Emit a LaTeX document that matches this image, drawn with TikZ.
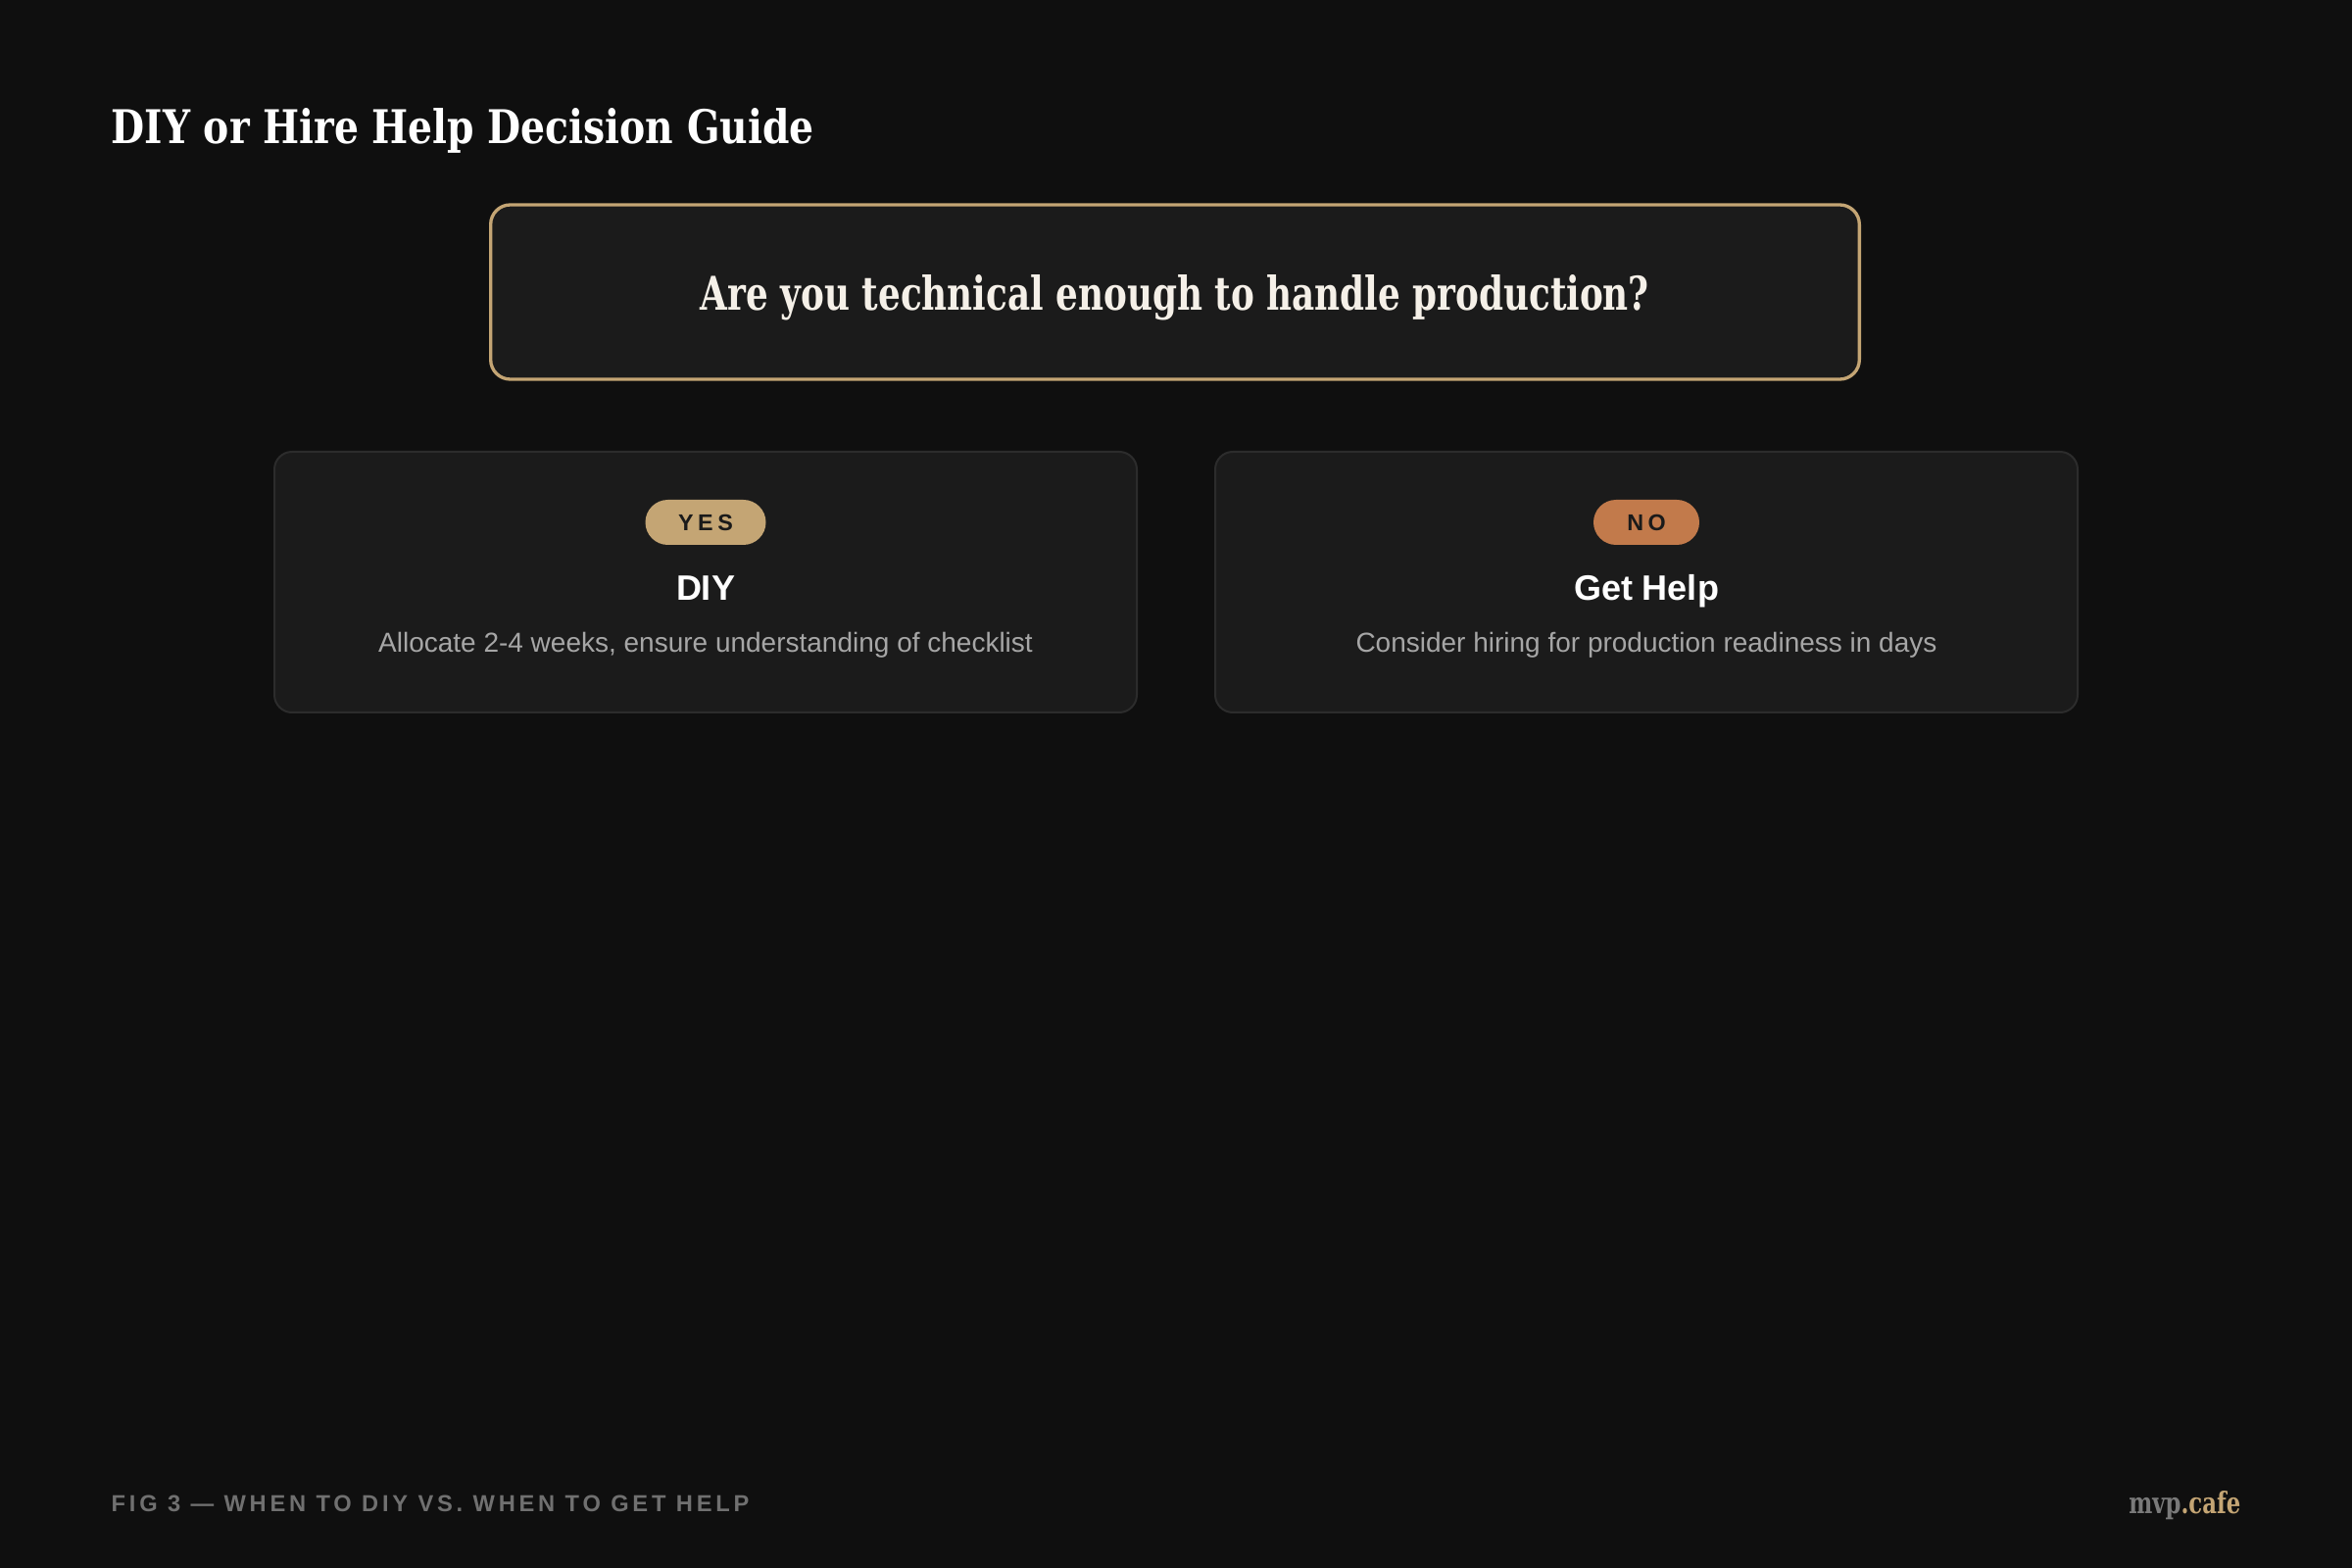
\documentclass[tikz,border=0pt]{standalone}
\usepackage{fontspec}
\usepackage{graphicx}
\setsansfont{Liberation Sans}
\newfontfamily\dispfont{DejaVu Serif}
\definecolor{bg}{HTML}{0F0F0F}
\definecolor{cardfill}{HTML}{1B1B1B}
\definecolor{cardline}{HTML}{2C2C2C}
\definecolor{gold}{HTML}{C4A574}
\definecolor{rust}{HTML}{C27A4B}
\definecolor{qtext}{HTML}{F5F0E8}
\definecolor{desc}{HTML}{A6A6A6}
\definecolor{foot}{HTML}{707070}
\definecolor{mvpgray}{HTML}{7A7A7A}
\definecolor{pilltext}{HTML}{1A1A1A}
\tikzset{
  question/.style={draw=gold, line width=1pt, fill=cardfill, rounded corners=6pt,
    minimum width=419pt, minimum height=53.4pt, inner sep=0pt},
  card/.style={draw=cardline, line width=0.6pt, fill=cardfill, rounded corners=5.4pt,
    minimum width=264pt, minimum height=79.8pt, inner sep=0pt},
  pill/.style={rounded corners=6.9pt, minimum height=13.8pt, inner sep=0pt,
    text=pilltext, font=\sffamily\bfseries\fontsize{7pt}{8pt}\selectfont},
  heading/.style={anchor=base, inner sep=0pt, text=white,
    font=\sffamily\bfseries\fontsize{10.8pt}{12pt}\selectfont},
  descr/.style={anchor=base, inner sep=0pt, text=desc,
    font=\sffamily\fontsize{8.4pt}{10pt}\selectfont},
  plain/.style={inner sep=0pt}
}
\begin{document}
\begin{tikzpicture}[x=0.3pt,y=-0.3pt]
\fill[bg] (0,0) rectangle (2400,1600);
\useasboundingbox (0,0) rectangle (2400,1600);

% title
\node[plain, anchor=base west, text=white] (title) at (113,147)
  {\resizebox{215.1pt}{10.8pt}{\dispfont\bfseries DIY or Hire Help Decision Guide}};

% question box
\node[question] (q) at (1199,298) {};
\node[plain, anchor=base, text=qtext] (qtext) at (1199,317)
  {\resizebox{290.4pt}{10.8pt}{\dispfont\bfseries Are you technical enough to handle production?}};

% left card
\node[card] (left) at (720,594) {};
\node[pill, fill=gold, minimum width=36.9pt] (yes) at (720,533) {Y\kern1.35pt E\kern1.35pt S};
\node[heading] (diy) at (720,613) {DIY};
\node[descr] (diydesc) at (720,666) {Allocate 2-4 weeks, ensure understanding of checklist};

% right card
\node[card] (right) at (1680,594) {};
\node[pill, fill=rust, minimum width=32.4pt] (no) at (1680,533) {N\kern1.35pt O};
\node[heading] (help) at (1680,613) {Get Help};
\node[descr] (helpdesc) at (1680,666) {Consider hiring for production readiness in days};

% footer
\node[plain, anchor=base west, text=foot,
  font=\sffamily\bfseries\fontsize{7.1pt}{8pt}\selectfont] (fig) at (113,1542)
  {\addfontfeature{LetterSpace=16}FIG 3 — WHEN TO DIY VS. WHEN TO GET HELP};
\node[plain, anchor=base east] (brand) at (2287,1544)
  {\resizebox{34.2pt}{6.9pt}{\dispfont\bfseries\color{mvpgray}mvp\color{gold}.cafe}};
\end{tikzpicture}
\end{document}
